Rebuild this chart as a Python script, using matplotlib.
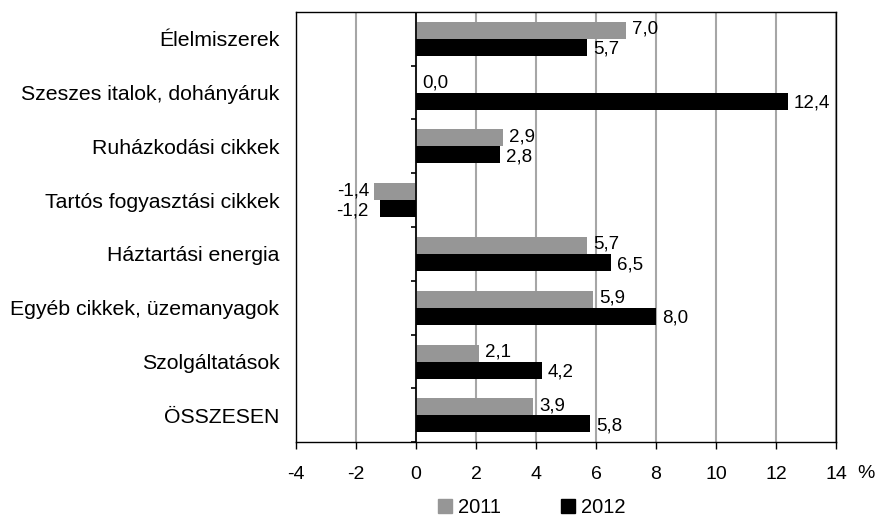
import numpy as np
import matplotlib.pyplot as plt
from matplotlib.patches import Patch

plt.rcParams['font.family'] = ['Liberation Sans', 'DejaVu Sans']

categories = [
    "Élelmiszerek",
    "Szeszes italok, dohányáruk",
    "Ruházkodási cikkek",
    "Tartós fogyasztási cikkek",
    "Háztartási energia",
    "Egyéb cikkek, üzemanyagok",
    "Szolgáltatások",
    "ÖSSZESEN",
]
values_2011 = [7.0, 0.0, 2.9, -1.4, 5.7, 5.9, 2.1, 3.9]
values_2012 = [5.7, 12.4, 2.8, -1.2, 6.5, 8.0, 4.2, 5.8]
xticks = [-4, -2, 0, 2, 4, 6, 8, 10, 12, 14]

color_2011 = '#969696'
color_2012 = '#000000'

fig = plt.figure(figsize=(8.82, 5.19), dpi=100)
ax = fig.add_axes([0.3356, 0.148, 0.6122, 0.829])

y = np.arange(len(categories))
h = 0.316

ax.barh(y - h / 2, values_2011, height=h, color=color_2011, zorder=3)
ax.barh(y + h / 2, values_2012, height=h, color=color_2012, zorder=3)


def fmt(v):
    return f"{v:.1f}".replace('.', ',')


# value labels: right of bar end, negatives left-aligned to the longest bar
for i, (a, b) in enumerate(zip(values_2011, values_2012)):
    for v, yy, dy in ((a, i - h / 2, -0.02), (b, i + h / 2, 0.04)):
        if v < 0:
            ax.text(min(a, b) - 0.17, yy + dy, fmt(v), ha='right', va='center', fontsize=13.5)
        else:
            ax.text(v + 0.2, yy + dy, fmt(v), ha='left', va='center', fontsize=13.5)

ax.set_xlim(-4, 14)
ax.set_ylim(len(categories) - 0.5, -0.5)
ax.set_xticks(xticks)
ax.set_xticklabels([str(t) for t in xticks], fontsize=14)
ax.set_yticks(y)
ax.set_yticklabels(categories, fontsize=15.3)
ax.tick_params(axis='y', length=0, pad=12)
ax.tick_params(axis='x', direction='out', length=5, width=1, pad=12)

ax.grid(axis='x', color='#a6a6a6', linewidth=1.5, zorder=0)
ax.axvline(0, color='black', linewidth=1.2, zorder=4)
ax.hlines(np.arange(len(categories) + 1) - 0.5, -0.15, 0, color='black', linewidth=1.2, zorder=4)

for s in ax.spines.values():
    s.set_color('black')
    s.set_linewidth(1)

fig.text(0.982, 0.0886, '%', fontsize=14, ha='center', va='center')

handles = [Patch(color=color_2011, label='2011'), Patch(color=color_2012, label='2012')]
fig.legend(handles=handles, loc='center', bbox_to_anchor=(0.603, 0.022), ncol=2, frameon=False,
           fontsize=14.5, handlelength=0.7, handleheight=0.7, handletextpad=0.3, columnspacing=3.0,
           borderpad=0)

fig.savefig('out.png', dpi=100)
